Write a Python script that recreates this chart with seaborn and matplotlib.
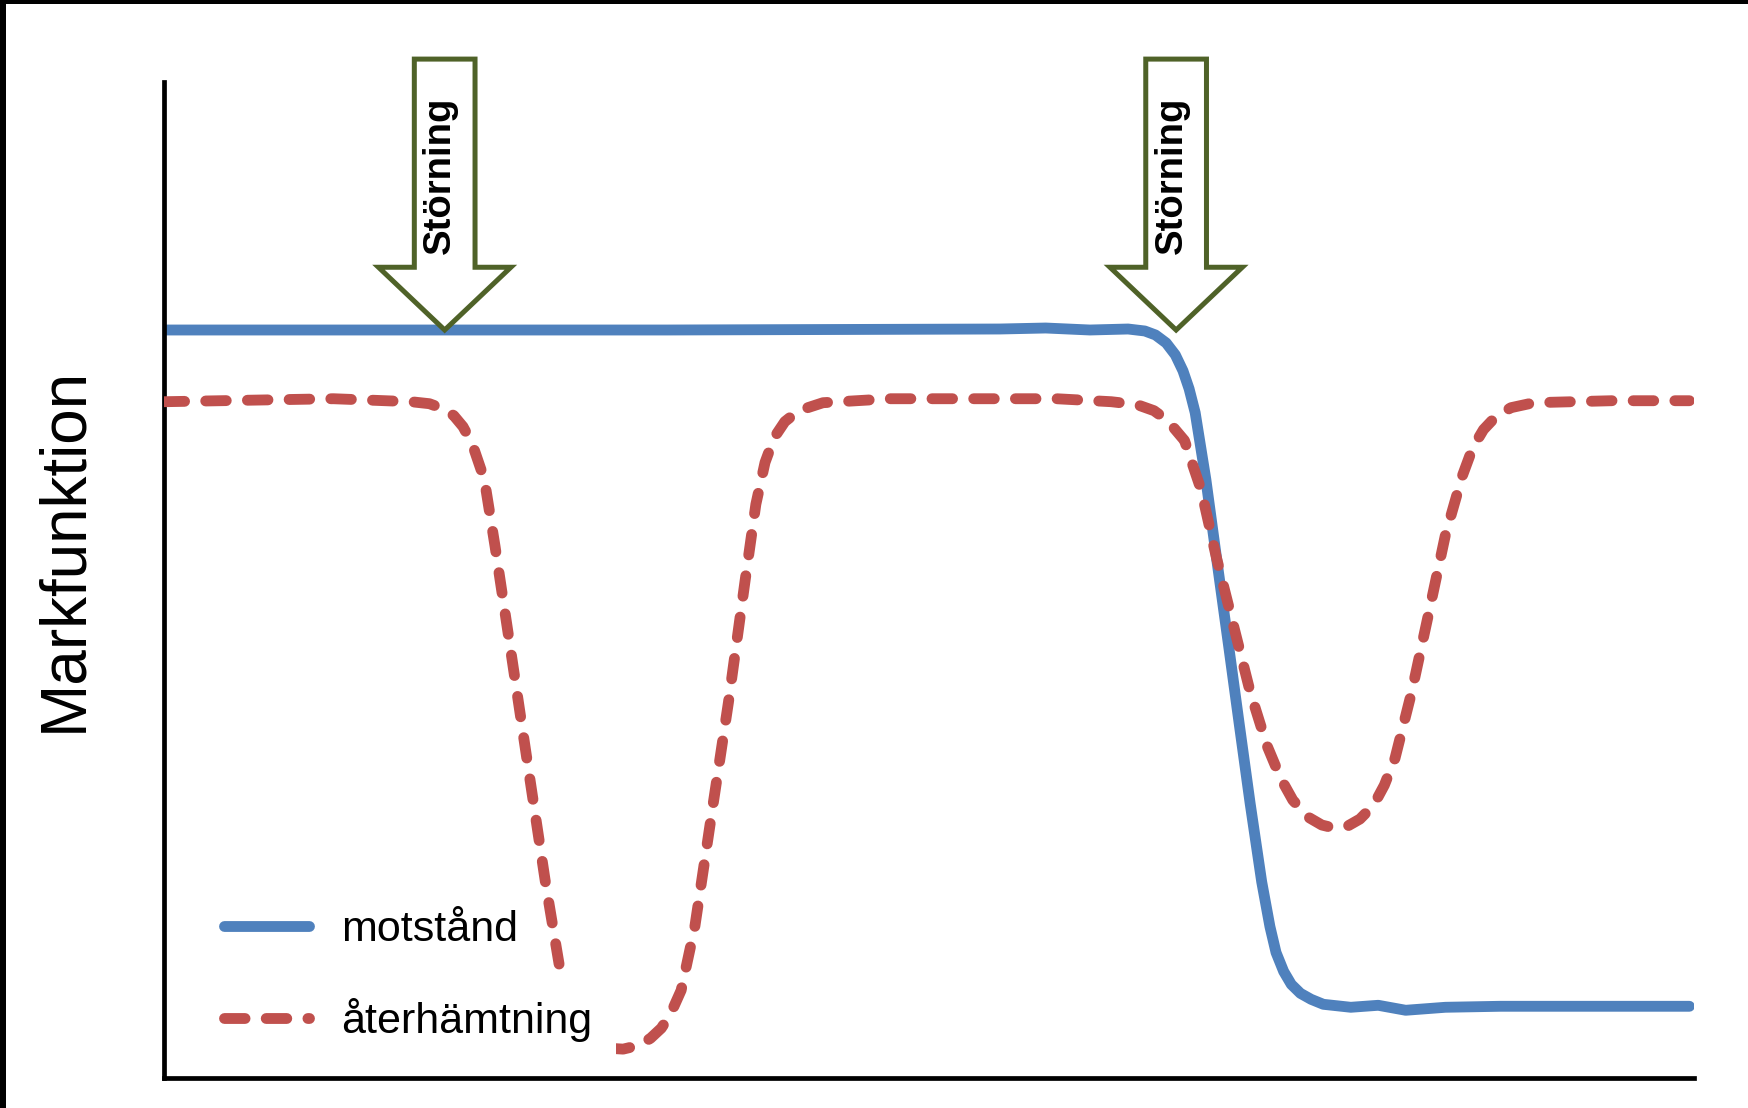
import numpy as np
import pandas as pd
import matplotlib
matplotlib.use("Agg")
import matplotlib.pyplot as plt
import seaborn as sns
from matplotlib.patches import Polygon, Rectangle

# tid (0-100) och markfunktion (0-100)
tid_aterhamtning = [0.0, 11.1, 16.2, 17.4, 18.3, 19.0, 19.6, 20.2, 21.0, 21.7, 22.8, 23.9,
                    25.0, 26.1, 27.2, 28.2, 29.0, 30.1, 31.2, 31.9, 32.6, 33.2, 33.9, 34.8,
                    35.9, 37.0, 38.1, 38.8, 39.4, 40.0, 40.7, 41.6, 43.2, 47.6, 58.5, 62.1,
                    63.8, 64.9, 65.8, 66.9, 68.0, 69.0, 70.1, 71.2, 72.3, 73.2, 74.0, 75.0,
                    75.9, 76.7, 77.6, 78.4, 79.3, 80.0, 80.7, 81.8, 82.9, 84.0, 85.1, 85.8,
                    86.5, 87.3, 88.3, 89.8, 94.9, 100.0]
aterhamtning = [67.9, 68.2, 67.9, 67.7, 67.2, 66.5, 65.4, 63.7, 60.1, 53.4, 42.2, 30.9,
                19.7, 9.6, 5.0, 3.6, 3.0, 2.9, 3.3, 4.0, 5.0, 6.4, 8.8, 15.2,
                26.5, 37.7, 50.0, 57.6, 61.8, 64.3, 65.9, 67.0, 67.8, 68.2, 68.2, 67.9,
                67.6, 67.0, 66.0, 64.0, 59.0, 52.2, 45.5, 38.8, 33.4, 30.1, 27.9, 26.2,
                25.4, 25.1, 25.3, 26.0, 27.4, 29.4, 32.1, 38.8, 46.6, 54.5, 60.4, 63.3,
                65.1, 66.4, 67.3, 67.8, 68.0, 68.0]

tid_motstand = [0.0, 33.0, 54.8, 57.8, 60.7, 63.2, 64.3, 65.0, 65.7, 66.3, 66.8, 67.2,
                67.6, 68.3, 69.0, 69.8, 70.5, 71.2, 71.96, 72.5, 72.9, 73.4, 73.9, 74.5,
                75.2, 76.0, 77.8, 79.6, 81.4, 84.0, 87.6, 100.0]
motstand = [75.1, 75.1, 75.2, 75.3, 75.1, 75.2, 75.0, 74.6, 73.8, 72.6, 71.0, 69.2,
            66.8, 60.1, 52.2, 43.3, 35.4, 27.6, 19.7, 15.2, 12.6, 10.7, 9.4, 8.5,
            7.9, 7.4, 7.1, 7.3, 6.8, 7.1, 7.2, 7.2]

storning_x = [18.4, 66.35]
serie_namn = ["motstånd", "återhämtning"]
storning_text = "Störning"
y_label = "Markfunktion"

sns.set_style("white")
plt.rcParams["font.family"] = ["Liberation Sans", "DejaVu Sans"]
plt.rcParams["text.color"] = "black"

fig = plt.figure(figsize=(17.49, 11.08), dpi=100)
ax = fig.add_axes([164 / 1749, 30 / 1108, 1530 / 1749, 996 / 1108])

df_m = pd.DataFrame({"tid": tid_motstand, "varde": motstand})
df_a = pd.DataFrame({"tid": tid_aterhamtning, "varde": aterhamtning})

sns.lineplot(data=df_m, x="tid", y="varde", ax=ax, color="#4F81BD", linewidth=7.8,
             label=serie_namn[0], solid_capstyle="round", solid_joinstyle="round", zorder=2)
sns.lineplot(data=df_a, x="tid", y="varde", ax=ax, color="#C0504D", linewidth=7.8,
             label=serie_namn[1], zorder=3)
red = ax.lines[-1]
red.set_linestyle((0, (1.9, 1.95)))
red.set_dash_capstyle("round")

ax.set_xlim(0, 100.3)
ax.set_ylim(0, 100)
ax.set_xticks([])
ax.set_yticks([])
ax.set_xlabel("")
ax.set_ylabel("")
sns.despine(ax=ax)
for s in ["left", "bottom"]:
    ax.spines[s].set_color("black")
    ax.spines[s].set_linewidth(3.4)

# störningspilar
for cx in storning_x:
    sw, hw = 1.99, 4.34
    top, base, tip = 102.3, 81.4, 75.1
    verts = [(cx - sw, top), (cx + sw, top), (cx + sw, base), (cx + hw, base),
             (cx, tip), (cx - hw, base), (cx - sw, base)]
    ax.add_patch(Polygon(verts, closed=True, facecolor="white", edgecolor="#4F6228",
                         linewidth=3.6, joinstyle="miter", zorder=6, clip_on=False))
    ax.text(cx - 0.3, 90.6, storning_text, rotation=90, fontsize=27.5, fontweight="bold",
            ha="center", va="center", zorder=7, clip_on=False)

# vit ruta bakom andra legendraden
ax.add_patch(Rectangle((0.017, 0.008), 0.2785, 0.1, transform=ax.transAxes,
                       facecolor="white", edgecolor="none", zorder=4))

ax.legend(loc="lower left", bbox_to_anchor=(0.039, 0.036), frameon=False, fontsize=31,
          handlelength=1.98, handletextpad=0.75, labelspacing=1.12, borderpad=0,
          borderaxespad=0)

fig.text(64 / 1749, 1 - 549 / 1108, y_label, rotation=90, fontsize=46,
         ha="center", va="center")

# svart kant uppe och till vänster
fig.add_artist(Rectangle((0, 0), 6 / 1749, 1, transform=fig.transFigure,
                         facecolor="black", edgecolor="none"))
fig.add_artist(Rectangle((0, 1 - 3.5 / 1108), 1, 3.5 / 1108, transform=fig.transFigure,
                         facecolor="black", edgecolor="none"))

fig.savefig("out.png", dpi=100)
